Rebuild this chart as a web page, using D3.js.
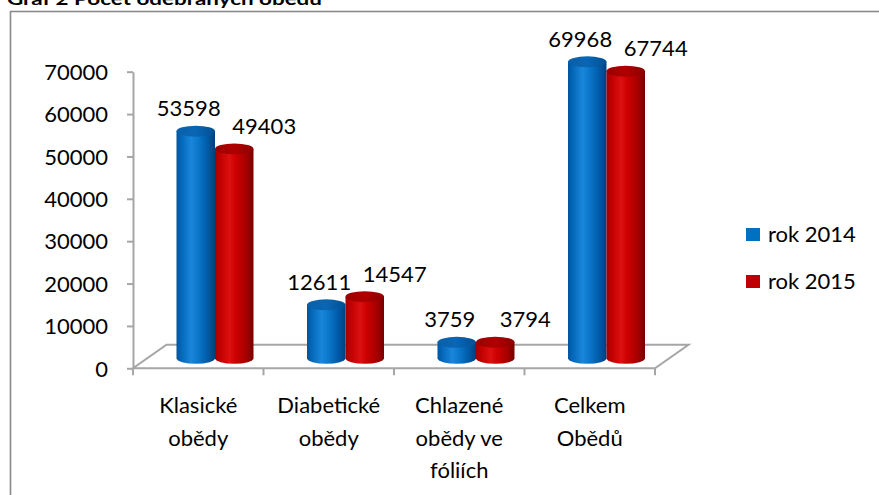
<!DOCTYPE html>
<html><head><meta charset="utf-8">
<script src="https://cdn.jsdelivr.net/npm/d3@7"></script>
<style>body{margin:0;background:#fff}svg{display:block}text{font-family:Lato,"Open Sans",sans-serif;fill:#000}</style>
</head><body><svg id="c" width="879" height="495"></svg>
<script>
const title = "Graf 2 Počet odebraných obědů";
const categories = ["Klasické obědy", "Diabetické obědy", "Chlazené obědy ve fóliích", "Celkem Obědů"];
const series = ["rok 2014", "rok 2015"];
const values2014 = [53598, 12611, 3759, 69968];
const values2015 = [49403, 14547, 3794, 67744];
const yTicks = [0, 10000, 20000, 30000, 40000, 50000, 60000, 70000];
const seriesValues = [values2014, values2015];

const svg = d3.select("#c");
const FS = 22;
const depthX = 33.5, depthY = -23.5;       // floor depth projection
const barShiftX = depthX / 2, barShiftY = -10;

// frame + title
svg.append("rect").attr("x", 10.5).attr("y", 11.5).attr("width", 900).attr("height", 600)
  .attr("fill", "none").attr("stroke", "#8a8a8a").attr("stroke-width", 1.6);
svg.append("text").attr("x", 7).attr("y", 4.5).attr("font-weight", "bold").attr("font-size", 17)
  .attr("textLength", 315).attr("lengthAdjust", "spacingAndGlyphs").text(title);

const x = d3.scaleBand().domain(categories).range([133, 655]).padding(0);
const groupW = 77;
const xs = d3.scaleBand().domain(series).range([(x.bandwidth() - groupW) / 2, (x.bandwidth() + groupW) / 2]);
const y = d3.scaleLinear().domain([0, 70000]).range([368.3, 71.7]);

// floor
const x0 = x.range()[0], x1 = x.range()[1], yf = y(0);
svg.append("path")
  .attr("d", `M${x0},${yf}L${x1},${yf}L${x1 + depthX},${yf + depthY}L${x0 + depthX},${yf + depthY}Z`)
  .attr("fill", "none").attr("stroke", "#a6a6a6").attr("stroke-width", 2);

// category ticks on the front edge
const bounds = categories.map(c => x(c)).concat([x1]);
svg.append("g").selectAll("line").data(bounds).join("line")
  .attr("x1", d => d).attr("x2", d => d).attr("y1", yf).attr("y2", yf + 7)
  .attr("stroke", "#a6a6a6").attr("stroke-width", 2);

// y axis
const ax = svg.append("g").attr("transform", `translate(${x0},0)`)
  .call(d3.axisLeft(y).tickValues(yTicks).tickFormat(d3.format("d")).tickSize(6).tickSizeOuter(0).tickPadding(19));
ax.select(".domain").attr("stroke", "#a6a6a6").attr("stroke-width", 2);
ax.selectAll(".tick line").attr("stroke", "#a6a6a6").attr("stroke-width", 2);
ax.selectAll(".tick text").attr("font-size", FS).attr("font-family", "Lato").attr("fill", "#000").attr("dy", "0.35em");

// category labels (wrapped)
const catG = svg.append("g");
categories.forEach(c => {
  const t = catG.append("text").attr("text-anchor", "middle").attr("font-size", FS);
  const words = c.split(" ");
  let lines = [], cur = "";
  const meas = catG.append("text").attr("font-size", FS);
  words.forEach(w => {
    const test = cur ? cur + " " + w : w;
    meas.text(test);
    if (cur && meas.node().getComputedTextLength() > 115) { lines.push(cur); cur = w; }
    else cur = test;
  });
  lines.push(cur);
  meas.remove();
  lines.forEach((l, i) => {
    t.append("tspan").attr("x", x(c) + x.bandwidth() / 2).attr("y", 413 + i * 32.5).text(l);
  });
});

// gradients
const defs = svg.append("defs");
function grad(id, stops) {
  const g = defs.append("linearGradient").attr("id", id).attr("x1", 0).attr("x2", 1).attr("y1", 0).attr("y2", 0);
  stops.forEach(s => g.append("stop").attr("offset", s[0]).attr("stop-color", s[1]));
}
grad("bodyB", [[0, "#00549e"], [0.12, "#0467b8"], [0.38, "#1a86da"], [0.55, "#0b78cc"], [0.82, "#0059a6"], [1, "#003f7c"]]);
grad("topB", [[0, "#0a5fa8"], [0.5, "#0a66b4"], [1, "#004f92"]]);
grad("bodyR", [[0, "#a00000"], [0.12, "#bf0000"], [0.38, "#dc1010"], [0.55, "#cc0000"], [0.82, "#a50000"], [1, "#760000"]]);
grad("topR", [[0, "#9a0000"], [0.5, "#b00000"], [1, "#8c0000"]]);
const bodyFill = ["url(#bodyB)", "url(#bodyR)"];
const topFill = ["url(#topB)", "url(#topR)"];
const legendColors = ["#0070c0", "#c00000"];
const labelDx = [-7, 30];

const rx = xs.bandwidth() / 2, ry = 5.5;
const barsG = svg.append("g");
const labG = svg.append("g");
series.forEach((s, si) => {
  categories.forEach((c, ci) => {
    const v = seriesValues[si][ci];
    const cx = x(c) + xs(s) + rx + barShiftX;
    const yTop = y(v) + barShiftY, yBase = y(0) + barShiftY;
    barsG.append("path")
      .attr("d", `M${cx - rx},${yBase}L${cx - rx},${yTop}L${cx + rx},${yTop}L${cx + rx},${yBase}A${rx},${ry} 0 0 1 ${cx - rx},${yBase}Z`)
      .attr("fill", bodyFill[si]);
    barsG.append("ellipse").attr("cx", cx).attr("cy", yTop).attr("rx", rx).attr("ry", ry)
      .attr("fill", topFill[si]);
    labG.append("text").attr("x", cx + labelDx[si]).attr("y", yTop - 15)
      .attr("text-anchor", "middle").attr("font-size", FS).text(v);
  });
});

// legend
const lg = svg.append("g");
series.forEach((s, i) => {
  lg.append("rect").attr("x", 746).attr("y", 228 + i * 47).attr("width", 14).attr("height", 13).attr("fill", legendColors[i]);
  lg.append("text").attr("x", 768).attr("y", 241.5 + i * 47).attr("font-size", FS).text(s);
});
</script></body></html>
